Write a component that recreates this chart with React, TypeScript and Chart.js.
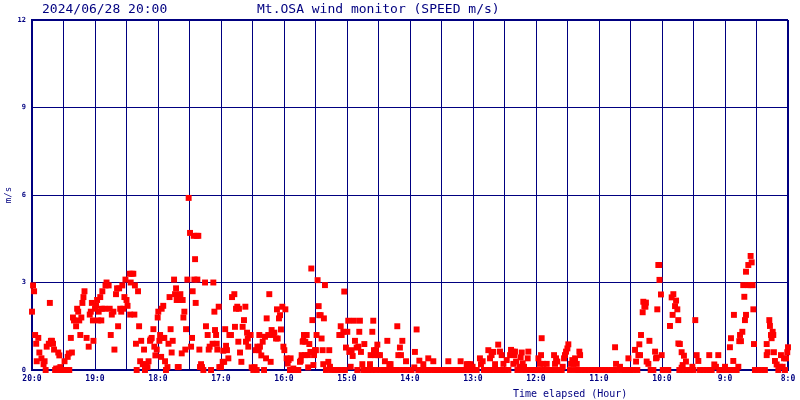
import React, { useEffect, useRef } from "react";
import { Chart, registerables } from "chart.js";

Chart.register(...registerables);

// ---- data (minutes elapsed since 20:00, wind speed m/s) ----
const hour20: number[][] = [
  [0, 2.0], [1, 2.9], [2, 2.7], [3, 1.2], [4, 0.9], [4.5, 0.3], [6, 1.1], [7, 0.6], [9, 0.4], [11, 0.2],
  [12, 0.3], [13, 0], [14, 0.8], [16, 0.9], [17, 2.3], [18, 1.0], [19, 1.0], [20, 0.9], [21, 0.7], [22, 0],
  [23, 0.05], [24, 0], [25, 0.6], [25.5, 0.05], [26, 0.5], [26.5, 0], [27, 0.1], [28, 0], [29, 0], [30, 0],
  [31, 0.3], [32, 0], [33, 0], [34, 0.45], [35, 0.57], [35.5, 0], [37, 1.1], [38, 0.6], [39, 1.8], [40, 1.7],
  [42, 1.5], [43, 2.1], [44, 2.0], [45, 1.7], [46, 1.2], [47, 1.8], [48, 2.3], [49, 2.5], [50, 2.7], [52, 1.1],
  [54, 0.8], [55, 1.9], [56, 2.0], [57, 2.3], [58, 1.7], [58.5, 1.0],
];
const hour19: number[][] = [
  [60, 2.1], [61, 2.2], [62, 2.4], [63, 1.7], [63.5, 2.0], [65, 2.5], [66, 1.7], [66.5, 2.1], [67, 2.7], [69, 2.1],
  [70, 2.9], [71, 3.0], [73, 2.9], [74, 2.1], [75, 1.2], [76, 1.9], [77.5, 2.0], [78.5, 0.7], [80, 2.6], [81, 2.8],
  [82, 1.5], [83, 2.8], [84, 2.1], [85, 2.0], [86, 2.9], [87, 2.1], [88, 2.5], [89, 3.1], [90, 2.4], [91, 2.2],
  [93, 3.3], [93.5, 1.9], [94, 3.0], [95, 3.3], [96.5, 3.3], [97.5, 1.9], [98, 2.9], [99, 0.9], [99.7, 0], [101, 2.7],
  [102, 1.5], [103, 0.3], [104, 1.0], [105.5, 0.2], [106.7, 0.7], [107.6, 0], [108.6, 0.2], [110, 0.1], [111, 0.3], [112.4, 1.0],
  [113, 1.05], [114, 1.1], [115.6, 1.4], [116.5, 0.8], [117.5, 0.5], [118.8, 0.7], [119.7, 1.8],
];
const hour18: number[][] = [
  [120.3, 2.0], [121.3, 1.0], [122, 1.2], [123, 0.45], [123.5, 2.1], [124.5, 1.1], [125, 2.2], [126, 1.1], [126.7, 0.3], [127.6, 0],
  [129, 0.1], [130, 0.9], [131, 2.5], [132, 1.4], [133, 0.6], [134, 1.0], [135.3, 3.1], [136.2, 2.6], [137.2, 2.8], [137.8, 2.4],
  [138.8, 0.1], [139.7, 0.1], [140.4, 2.4], [141.3, 2.6], [142.6, 0.57], [143.5, 2.4], [144.2, 1.8], [145.1, 2.0], [146, 0.7], [146.7, 1.4],
  [148, 3.1], [149.2, 5.9], [150.5, 4.7], [151.5, 0.8], [152.4, 1.1], [153, 2.7], [154, 4.6], [154.6, 3.1], [155.3, 3.8], [155.9, 2.3],
  [156.9, 4.6], [157.5, 3.1], [158.4, 4.6], [159.4, 0.7], [160, 0.1], [161, 0.2], [161.9, 0.1], [163.2, 0], [164.8, 3.0], [165.7, 1.5],
  [167.3, 1.2], [168.3, 0.7], [169.2, 0.8], [170.5, 0], [172, 0.9], [172.7, 3.0], [173.7, 2.0], [174.3, 1.37], [175.3, 1.2], [175.9, 0.9],
  [176.5, 0.7], [177.8, 2.17], [178.4, 0.1],
];
const hour17: number[][] = [
  [180, 0.1], [181.6, 0.28], [182.2, 0.66], [183, 0.28], [184, 1.4], [184.8, 0.83], [185.7, 0.68], [187, 0.4], [188, 1.2], [189.5, 1.2],
  [190.5, 2.5], [192.7, 2.6], [193.3, 1.48], [194.3, 2.1], [195.5, 2.17], [196.5, 0.97], [197.1, 2.1], [198.1, 0.6], [199.4, 0.28], [200.6, 1.48],
  [201.9, 1.71], [203.2, 2.17], [203.8, 0.97], [204.8, 1.28], [205.5, 1.08], [206, 0.8], [207, 1.2], [208.2, 1.2], [209.2, 0.09], [210.8, 0],
  [212, 0.1], [213, 0.68], [214, 0], [214.6, 0.8], [216, 0.68], [216.5, 1.2], [217.1, 0.8], [218.4, 0.5], [219.7, 0.97], [221, 0],
  [221.9, 1.14], [222.9, 0.4], [223.5, 1.77], [225, 1.2], [226, 2.6], [227.3, 0.28], [228.2, 1.37], [229.8, 1.2], [230.8, 1.28], [232.4, 1.08],
  [233.3, 2.08], [234, 1.08], [235.2, 1.77], [236.2, 1.88], [237.1, 1.39], [238.4, 2.17], [239.4, 0.8],
];
const hour16: number[][] = [
  [240.3, 0.68], [241.3, 2.08], [242.5, 0.4], [243.5, 0.22], [244.4, 0.34], [245.7, 0], [246.3, 0.4], [247.6, 0], [248.9, 0.05], [250.5, 0],
  [252, 0], [253.6, 0], [255.2, 0.28], [256, 0.32], [256.8, 0.51], [257.8, 0.97], [258.4, 1.0], [259, 1.2], [260, 0.51], [260.3, 0.97],
  [261.6, 1.2], [262.8, 0.51], [263, 0.09], [264.1, 0.89], [265.1, 0.62], [266, 3.48], [267, 1.71], [268, 0.17], [268.6, 0.51], [269.5, 0.68],
  [270.4, 0.68], [271, 1.2], [272, 3.08], [273, 2.19], [273.6, 1.88], [274.9, 1.88], [275.8, 1.08], [276.8, 0.68], [277.4, 0.2], [278, 1.77],
  [279, 2.91], [280, 0], [282.2, 0.28], [283.1, 0.68], [283.8, 0.11], [285.4, 0], [288.5, 0], [290, 0], [291.7, 0], [292.7, 1.2],
  [294, 1.5], [294.9, 1.2], [295.5, 0], [296.5, 1.31], [297.4, 2.69], [298, 0], [299, 0.77],
];
const hour15: number[][] = [
  [300.3, 1.31], [301.2, 1.69], [302.2, 0.62], [303.5, 0.11], [304.4, 0.68], [305.4, 0.48], [306.6, 1.69], [307.6, 1.0], [309.2, 0.77], [309.8, 0],
  [310.8, 0.8], [311.7, 1.31], [312.3, 1.69], [313.3, 0.62], [314.6, 0.2], [315.5, 0], [316.5, 0.89], [318, 0], [320.3, 0], [321.9, 0.2],
  [322.5, 0.51], [323.5, 0], [324.1, 1.31], [325, 1.69], [325.7, 0.68], [326.6, 0.51], [327.3, 0], [327.6, 0.68], [328.9, 0.87], [329.8, 0.51],
  [331.4, 0.51], [332, 0], [334.6, 0], [336.1, 0.3], [337, 0], [338.4, 1.0], [339.3, 0], [340.3, 0.2], [341.5, 0.2], [342.5, 0],
  [344.7, 0], [347, 0], [347.9, 1.5], [348.9, 0.51], [350, 0], [350.4, 0.77], [351.4, 0.51], [352.7, 1.0], [353.6, 0], [356.2, 0.3],
  [357, 0], [358.4, 0],
];
const hour14: number[][] = [
  [361.5, 0], [364.1, 0.09], [364.7, 0.62], [366.3, 1.39], [367.9, 0], [368.9, 0.32], [371, 0], [372.7, 0.2], [374.2, 0], [377, 0],
  [377.4, 0.4], [379, 0], [382.2, 0.3], [383.8, 0], [385, 0], [387, 0], [390, 0], [393.3, 0], [395, 0], [396.5, 0.3],
  [398, 0], [399.6, 0], [402.8, 0], [404, 0], [406, 0], [408.2, 0.3], [409, 0], [410.8, 0], [412, 0], [414, 0.2],
  [415, 0], [415.5, 0.2], [417.7, 0.2], [418, 0], [419.6, 0.11],
];
const hour13: number[][] = [
  [420.9, 0], [423.5, 0], [426.6, 0.4], [427.6, 0.2], [429.2, 0.3], [430.4, 0], [433, 0], [434.6, 0.68], [436, 0], [436.2, 0.4],
  [437.7, 0.51], [439, 0], [439.3, 0.62], [441, 0.2], [442.5, 0], [444, 0.87], [445, 0], [445.7, 0.63], [447.3, 0.51], [447.8, 0],
  [449, 0.21], [450.5, 0], [452.1, 0.34], [453.7, 0], [455.3, 0.51], [456.2, 0.69], [457.8, 0.63], [458.4, 0.21], [459.4, 0.51], [460, 0.63],
  [461, 0.29], [462.3, 0], [464.2, 0.11], [465.4, 0.43], [466.4, 0.6], [467, 0], [467.3, 0.23], [468.6, 0.11], [470.5, 0], [472.1, 0.4],
  [472.7, 0.63], [473, 0], [474.3, 0], [476.9, 0], [479, 0],
];
const hour12: number[][] = [
  [481, 0], [482.3, 0.4], [483.8, 0.21], [484.8, 0.51], [485.4, 1.09], [486, 0], [487, 0.21], [488.6, 0], [490.2, 0.21], [491.8, 0],
  [493.4, 0], [494.9, 0], [497, 0], [497.2, 0.51], [498.1, 0.21], [499.1, 0.4], [500.3, 0.29], [501.3, 0], [502.9, 0], [504.5, 0],
  [505.4, 0.11], [506.7, 0.4], [507.6, 0.51], [508.6, 0.63], [509.9, 0.74], [510.8, 0.88], [512.4, 0], [513.4, 0.21], [514.6, 0.34], [515.6, 0.21],
  [517.2, 0.4], [518, 0], [518.8, 0.21], [520.4, 0], [521.3, 0.63], [522, 0.51], [523.5, 0], [526.7, 0], [529.9, 0], [533, 0],
  [536.2, 0], [539.4, 0],
];
const hour11: number[][] = [
  [542.6, 0], [545.7, 0], [548.9, 0], [552.1, 0], [554, 0], [555.3, 0.78], [556.2, 0.21], [557, 0], [560, 0.11], [561.6, 0],
  [564.8, 0], [567, 0], [568, 0.4], [569.6, 0], [572.1, 0], [574.3, 0.69], [575.3, 0.29], [576.5, 0], [577.5, 0.51], [578.4, 0.88],
  [579.1, 0.51], [580, 1.2], [581.6, 1.98], [582.2, 2.34], [583.2, 2.19], [584.2, 2.17], [584.7, 2.31], [585.4, 0.29], [587, 0.21], [588, 1.0],
  [589.2, 0], [591.8, 0], [593.4, 0.63], [594.3, 0.4], [595, 0.43], [595.5, 2.08], [596.5, 3.6], [597.4, 3.6], [597.6, 3.09], [599, 2.59],
  [599.7, 0.51],
];
const hour10: number[][] = [
  [600.7, 0], [602.9, 0], [605, 0], [606, 0], [607.6, 1.51], [609.2, 2.49], [610.1, 1.89], [610.8, 2.6], [612.4, 2.19], [613.4, 2.38],
  [614.6, 2.08], [615.5, 1.71], [615.6, 0.91], [616.5, 0], [617, 0.89], [618.7, 0.61], [618.7, 0.08], [619.7, 0.17], [620.3, 0], [620.9, 0.49],
  [622.8, 0.29], [623.5, 0], [626.6, 0], [628.9, 0.11], [630, 0], [631.7, 1.71], [633, 0.51], [634.6, 0.31], [636.2, 0], [639.3, 0],
  [642.5, 0], [645, 0.51], [645.5, 0], [647.3, 0], [649.8, 0.19], [651.4, 0.11], [653.6, 0.51], [654.6, 0], [656.8, 0], [659, 0],
  [660, 0.11],
];
const hour9: number[][] = [
  [661.6, 0], [664, 0], [664.7, 0.78], [665.7, 1.09], [666.3, 0], [667.9, 0.31], [668.5, 1.89], [669, 0], [671.1, 0], [672.7, 0.11],
  [673.6, 0.99], [674.3, 1.2], [675.2, 0.99], [676.5, 1.31], [677.4, 2.91], [678.4, 2.51], [679, 1.71], [680, 1.89], [680, 3.37], [682.2, 3.6],
  [682.2, 2.91], [684.4, 3.91], [684.4, 2.91], [685.4, 3.69], [686.3, 2.91], [687, 2.08], [687.6, 0.89], [688.5, 0], [691.7, 0], [694.9, 0],
  [698, 0], [699.7, 0.89], [699.7, 0.51], [700.6, 0.61], [702.2, 1.71], [702.8, 1.51], [703.8, 1.2], [704.4, 1.09], [705.4, 1.31], [706, 1.2],
  [706.6, 0.61], [707.6, 0.31], [709.2, 0.19], [710.8, 0], [712.4, 0.11], [713.3, 0.51], [714.9, 0.11], [716.2, 0.4], [717.1, 0], [718.1, 0.4],
  [719.3, 0.61], [720, 0.78],
];

const hourLabels = ["20:0", "19:0", "18:0", "17:0", "16:0", "15:0", "14:0", "13:0", "12:0", "11:0", "10:0", "9:0", "8:0"];
const speedTicks = [0, 3, 6, 9, 12];
const dateText = "2024/06/28 20:00";
const titleText = "Mt.OSA wind monitor (SPEED m/s)";
const xTitleText = "Time elapsed (Hour)";
const yTitleText = "m/s";

const NAVY = "#000080";
const MONO = '"DejaVu Sans Mono", monospace';

const allSamples = [
  ...hour20, ...hour19, ...hour18, ...hour17, ...hour16, ...hour15,
  ...hour14, ...hour13, ...hour12, ...hour11, ...hour10, ...hour9,
];

const textPlugin = {
  id: "headerTexts",
  afterDraw(chart: any) {
    const ctx = chart.ctx;
    ctx.save();
    ctx.fillStyle = NAVY;
    ctx.textAlign = "left";
    ctx.textBaseline = "alphabetic";
    ctx.font = `13px ${MONO}`;
    ctx.fillText(dateText, 42, 13);
    ctx.fillText(titleText, 257, 13);
    ctx.font = `10px ${MONO}`;
    ctx.fillText(xTitleText, 513, 397);
    ctx.restore();
  },
};

export default function App() {
  const ref = useRef<HTMLCanvasElement | null>(null);
  useEffect(() => {
    if (!ref.current) return;
    const chart = new Chart(ref.current, {
      type: "scatter",
      data: {
        datasets: [
          {
            data: allSamples.map(([m, v]) => ({ x: m, y: v })),
            pointStyle: "rect",
            radius: 4.2,
            hoverRadius: 4.2,
            backgroundColor: "#ff0000",
            borderWidth: 0,
            clip: false as any,
          },
        ],
      },
      options: {
        animation: false,
        responsive: false,
        devicePixelRatio: 1,
        events: [],
        layout: { padding: { top: 20, right: 12, left: 0, bottom: 0 } },
        plugins: { legend: { display: false }, tooltip: { enabled: false }, title: { display: false } },
        scales: {
          x: {
            type: "linear",
            min: 0,
            max: 720,
            afterFit: (s: any) => { s.height = 30; },
            ticks: {
              stepSize: 30,
              autoSkip: false,
              maxRotation: 0,
              padding: 4,
              color: NAVY,
              font: { family: MONO, size: 8, weight: "bold" },
              callback: (v: any) => (Number(v) % 60 === 0 ? hourLabels[Number(v) / 60] : ""),
            },
            grid: {
              color: NAVY,
              drawTicks: false,
              lineWidth: (c: any) => (c.tick && (c.tick.value === 0 || c.tick.value === 720) ? 2 : 1),
            },
            border: { color: NAVY, width: 2 },
          },
          y: {
            type: "linear",
            min: 0,
            max: 12,
            afterFit: (s: any) => { s.width = 32; },
            afterBuildTicks: (s: any) => { s.ticks = speedTicks.map((v) => ({ value: v })); },
            ticks: {
              autoSkip: false,
              padding: 6,
              color: NAVY,
              font: { family: MONO, size: 7, weight: "bold" },
              callback: (v: any) => String(v),
            },
            grid: {
              color: NAVY,
              drawTicks: false,
              lineWidth: (c: any) => (c.tick && (c.tick.value === 0 || c.tick.value === 12) ? 2 : 1),
            },
            border: { color: NAVY, width: 2 },
            title: {
              display: true,
              text: yTitleText,
              color: NAVY,
              font: { family: MONO, size: 9 },
              padding: { top: 3, bottom: 0 },
            },
          },
        },
      },
      plugins: [textPlugin],
    });
    return () => chart.destroy();
  }, []);
  return (
    <div style={{ position: "absolute", left: 0, top: 0, width: 800, height: 400, background: "#fff" }}>
      <canvas ref={ref} width={800} height={400} />
    </div>
  );
}
